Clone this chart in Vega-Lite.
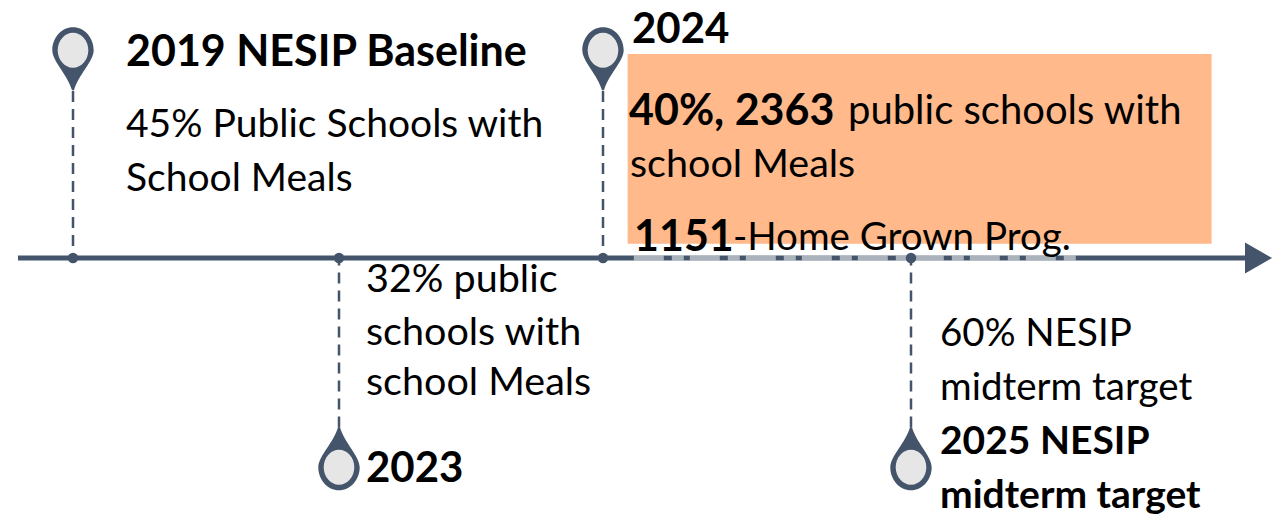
{
  "$schema": "https://vega.github.io/schema/vega-lite/v6.json",
  "autosize": {"type": "fit", "contains": "padding"},
  "width": 1276,
  "height": 518,
  "padding": 0,
  "background": "#ffffff",
  "config": {"view": {"stroke": null}, "text": {"font": "Lato", "align": "left", "baseline": "middle", "color": "#000000", "dy": 2}},
  "datasets": {
    "milestones": [
      {"year": 2019, "side": "above", "pin": -3.92, "reach": -3.15, "axis": 0},
      {"year": 2023, "side": "below", "pin": 3.95, "reach": 3.2, "axis": 0},
      {"year": 2024, "side": "above", "pin": -3.92, "reach": -3.15, "axis": 0},
      {"year": 2025, "side": "below", "pin": 3.95, "reach": 3.2, "axis": 0}
    ],
    "timeline": [{"start": 2018, "end": 2026, "row": 0}],
    "fadedStretch": [{"start": 2024.1, "end": 2025.5, "row": 0}],
    "highlight": [{"start": 2024.08, "end": 2025.9, "top": -3.85, "bottom": -0.27}],
    "labels": [
      {"year": 2019, "run": "baselineHead", "row": -3.91, "label": "2019 NESIP Baseline"},
      {"year": 2019, "run": "baselineBody", "row": -2.55, "label": "45% Public Schools with"},
      {"year": 2019, "run": "baselineBody", "row": -1.53, "label": "School Meals"},
      {"year": 2023, "run": "body2023", "row": 0.38, "label": "32% public"},
      {"year": 2023, "run": "body2023", "row": 1.38, "label": "schools with"},
      {"year": 2023, "run": "body2023", "row": 2.32, "label": "school Meals"},
      {"year": 2023, "run": "head2023", "row": 3.94, "label": "2023"},
      {"year": 2024, "run": "head2024", "row": -4.34, "label": "2024"},
      {"year": 2024, "run": "lead2024", "row": -2.79, "label": "40%, 2363"},
      {"year": 2024, "run": "tail2024", "row": -2.79, "label": "public schools with"},
      {"year": 2024, "run": "body2024", "row": -1.79, "label": "school Meals"},
      {"year": 2024, "run": "grown2024", "row": -0.415, "label": "1151"},
      {"year": 2024, "run": "prog2024", "row": -0.415, "label": "-Home Grown Prog."},
      {"year": 2025, "run": "body2025", "row": 1.4, "label": "60% NESIP"},
      {"year": 2025, "run": "body2025", "row": 2.42, "label": "midterm target"},
      {"year": 2025, "run": "head2025", "row": 3.43, "label": "2025 NESIP"},
      {"year": 2025, "run": "head2025", "row": 4.45, "label": "midterm target"}
    ]
  },
  "encoding": {
    "x": {"field": "year", "type": "quantitative", "axis": null,
      "scale": {"domain": [2018, 2019, 2023, 2024, 2025, 2026], "range": [18, 73, 339, 603, 911, 1245], "clamp": false}},
    "y": {"field": "row", "type": "quantitative", "axis": null,
      "scale": {"domain": [-5, 5], "range": [-7, 523], "nice": false, "zero": false}}
  },
  "layer": [
    {
      "data": {"name": "highlight"},
      "mark": {"type": "rect", "fill": "#ffb98a"},
      "encoding": {
        "x": {"field": "start", "type": "quantitative"},
        "x2": {"field": "end"},
        "y": {"field": "top", "type": "quantitative"},
        "y2": {"field": "bottom"}
      }
    },
    {
      "data": {"name": "timeline"},
      "mark": {"type": "rule", "stroke": "#44546a", "strokeWidth": 5},
      "encoding": {
        "x": {"field": "start", "type": "quantitative"},
        "x2": {"field": "end"}
      }
    },
    {
      "data": {"name": "fadedStretch"},
      "mark": {"type": "rule", "stroke": "#ffffff", "strokeWidth": 5, "opacity": 0.55, "strokeDash": [30, 8, 12, 6]},
      "encoding": {
        "x": {"field": "start", "type": "quantitative"},
        "x2": {"field": "end"}
      }
    },
    {
      "data": {"name": "timeline"},
      "mark": {"type": "point", "filled": true, "fill": "#44546a", "opacity": 1, "size": 10000,
        "shape": "M0,-0.31 L0.54,0 L0,0.31 Z"},
      "encoding": {"x": {"field": "end", "type": "quantitative"}}
    },
    {
      "data": {"name": "milestones"},
      "mark": {"type": "rule", "stroke": "#44546a", "strokeWidth": 2.5, "strokeDash": [11, 7]},
      "encoding": {
        "y": {"field": "reach", "type": "quantitative"},
        "y2": {"field": "axis"}
      }
    },
    {
      "data": {"name": "milestones"},
      "mark": {"type": "point", "filled": true, "fill": "#44546a", "opacity": 1, "size": 110},
      "encoding": {"y": {"field": "axis", "type": "quantitative"}}
    },
    {
      "data": {"name": "milestones"},
      "transform": [{"filter": "datum.side === 'above'"}],
      "mark": {"type": "point", "filled": true, "fill": "#44546a", "opacity": 1, "size": 10000,
        "shape": "M0,-0.46 C0.23,-0.46 0.414,-0.25 0.414,0 C0.414,0.22 0.1,0.5 0.02,0.8 L-0.02,0.8 C-0.1,0.5 -0.414,0.22 -0.414,0 C-0.414,-0.25 -0.23,-0.46 0,-0.46 Z"},
      "encoding": {"y": {"field": "pin", "type": "quantitative"}}
    },
    {
      "data": {"name": "milestones"},
      "transform": [{"filter": "datum.side === 'below'"}],
      "mark": {"type": "point", "filled": true, "fill": "#44546a", "opacity": 1, "size": 10000,
        "shape": "M0,0.46 C0.23,0.46 0.414,0.25 0.414,0 C0.414,-0.22 0.1,-0.5 0.02,-0.8 L-0.02,-0.8 C-0.1,-0.5 -0.414,-0.22 -0.414,0 C-0.414,0.25 -0.23,0.46 0,0.46 Z"},
      "encoding": {"y": {"field": "pin", "type": "quantitative"}}
    },
    {
      "data": {"name": "milestones"},
      "mark": {"type": "point", "filled": true, "fill": "#e6e6e6", "opacity": 1, "size": 10000,
        "shape": "M0,-0.35 C0.17,-0.35 0.306,-0.19 0.306,0 C0.306,0.19 0.17,0.35 0,0.35 C-0.17,0.35 -0.306,0.19 -0.306,0 C-0.306,-0.19 -0.17,-0.35 0,-0.35 Z"},
      "encoding": {"y": {"field": "pin", "type": "quantitative"}}
    },
    {"data": {"name": "labels"}, "transform": [{"filter": "datum.run === 'baselineHead'"}],
      "mark": {"type": "text", "dx": 53, "fontSize": 43, "fontWeight": "bold"},
      "encoding": {"text": {"field": "label"}}},
    {"data": {"name": "labels"}, "transform": [{"filter": "datum.run === 'baselineBody'"}],
      "mark": {"type": "text", "dx": 53, "fontSize": 39},
      "encoding": {"text": {"field": "label"}}},
    {"data": {"name": "labels"}, "transform": [{"filter": "datum.run === 'body2023'"}],
      "mark": {"type": "text", "dx": 27, "fontSize": 39.5},
      "encoding": {"text": {"field": "label"}}},
    {"data": {"name": "labels"}, "transform": [{"filter": "datum.run === 'head2023'"}],
      "mark": {"type": "text", "dx": 27, "fontSize": 42, "fontWeight": "bold"},
      "encoding": {"text": {"field": "label"}}},
    {"data": {"name": "labels"}, "transform": [{"filter": "datum.run === 'head2024'"}],
      "mark": {"type": "text", "dx": 29, "fontSize": 42, "fontWeight": "bold"},
      "encoding": {"text": {"field": "label"}}},
    {"data": {"name": "labels"}, "transform": [{"filter": "datum.run === 'lead2024'"}],
      "mark": {"type": "text", "dx": 26, "fontSize": 43, "fontWeight": "bold"},
      "encoding": {"text": {"field": "label"}}},
    {"data": {"name": "labels"}, "transform": [{"filter": "datum.run === 'tail2024'"}],
      "mark": {"type": "text", "dx": 245, "fontSize": 40},
      "encoding": {"text": {"field": "label"}}},
    {"data": {"name": "labels"}, "transform": [{"filter": "datum.run === 'body2024'"}],
      "mark": {"type": "text", "dx": 27, "fontSize": 39.5},
      "encoding": {"text": {"field": "label"}}},
    {"data": {"name": "labels"}, "transform": [{"filter": "datum.run === 'grown2024'"}],
      "mark": {"type": "text", "dx": 31, "fontSize": 43, "fontWeight": "bold"},
      "encoding": {"text": {"field": "label"}}},
    {"data": {"name": "labels"}, "transform": [{"filter": "datum.run === 'prog2024'"}],
      "mark": {"type": "text", "dx": 130, "fontSize": 38.5},
      "encoding": {"text": {"field": "label"}}},
    {"data": {"name": "labels"}, "transform": [{"filter": "datum.run === 'body2025'"}],
      "mark": {"type": "text", "dx": 29, "fontSize": 38.5},
      "encoding": {"text": {"field": "label"}}},
    {"data": {"name": "labels"}, "transform": [{"filter": "datum.run === 'head2025'"}],
      "mark": {"type": "text", "dx": 29, "fontSize": 39, "fontWeight": "bold"},
      "encoding": {"text": {"field": "label"}}}
  ]
}
